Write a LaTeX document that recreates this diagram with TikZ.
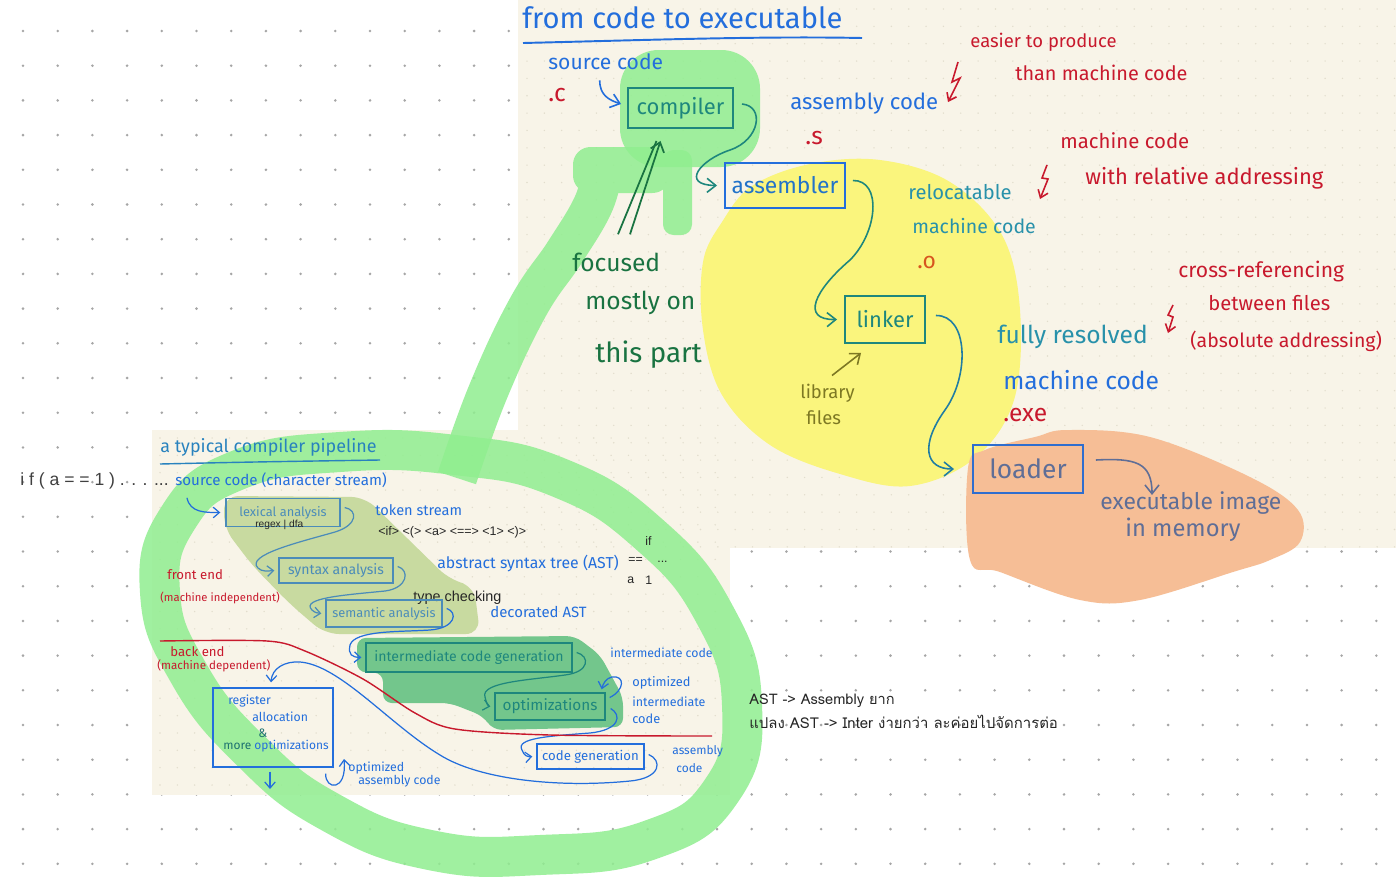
\documentclass[tikz,border=0pt]{standalone}
\usepackage{fontspec}
\setmainfont{Fira Sans}
\newfontfamily\typedfont{Liberation Sans}
\newfontfamily\thaifont[Script=Thai]{Loma}
\usetikzlibrary{arrows.meta}

\definecolor{penblue}{RGB}{35,110,220}
\definecolor{pentitle}{RGB}{40,130,190}
\definecolor{penred}{RGB}{200,25,45}
\definecolor{penteal}{RGB}{30,135,125}
\definecolor{pengreen}{RGB}{25,115,65}
\definecolor{penolive}{RGB}{125,120,35}
\definecolor{penslate}{RGB}{95,110,150}
\definecolor{penorange}{RGB}{215,85,30}
\definecolor{pencyan}{RGB}{40,145,170}
\definecolor{boxgrey}{RGB}{75,140,185}
\definecolor{paper}{RGB}{248,244,232}
\definecolor{paperdot}{RGB}{226,221,205}
\definecolor{hlgreen}{RGB}{144,238,144}
\definecolor{hlyellow}{RGB}{250,245,125}
\definecolor{hlorange}{RGB}{246,190,150}
\definecolor{hlolive}{RGB}{200,218,160}
\definecolor{hldark}{RGB}{115,198,140}

\newcommand\fs[1]{\fontsize{#1}{#1}\selectfont}

\tikzset{
  hand/.style={inner sep=0pt, anchor=west, font=\fs{12}},
  typed/.style={inner sep=0pt, anchor=west, text=black!85, font=\typedfont\fs{6}},
  penbox/.style={draw, line width=1.1pt, inner sep=0pt},
  pipebox/.style={draw, line width=0.8pt, inner sep=0pt},
  flow/.style={line width=0.9pt, -{Straight Barb[length=5pt,width=8pt]}},
  flowp/.style={penblue, line width=0.7pt, -{Straight Barb[length=3.5pt,width=6pt]}},
  zap/.style={penred, line width=0.9pt, -{Straight Barb[length=4pt,width=6pt]}},
  band/.style={draw=hlgreen, line width=0.8cm},
}

\begin{document}
\begin{tikzpicture}[x=0.02cm, y=-0.02cm]
\useasboundingbox (0,0) rectangle (1396,876);
\fill[white] (0,0) rectangle (1396,876);
% canvas dots
\foreach \i in {0,...,39}
  \foreach \j in {0,...,24}
    \fill[black!35] (23+34.7*\i, 31+34.7*\j) circle (0.8pt);

% the two screenshots
\fill[paper] (518,0) rectangle (1396,548);
\fill[paper] (152,430) rectangle (730,795);
\foreach \i in {0,...,50}
  \foreach \j in {0,...,31}
    \fill[paperdot] (527+17.35*\i, 9+17.35*\j) circle (0.45pt);
\foreach \i in {0,...,32}
  \foreach \j in {0,...,20}
    \fill[paperdot] (160+17.35*\i, 438+17.35*\j) circle (0.45pt);

% highlighter marks
\fill[hlyellow] plot[smooth cycle, tension=0.6] coordinates {(703,262) (722,222) (752,186) (810,164) (880,160) (950,182) (1002,235) (1020,310) (1014,400) (975,458) (910,486) (840,474) (770,445) (722,395) (703,330)};
\fill[hlorange] plot[smooth cycle, tension=0.6] coordinates {(968,468) (985,450) (1035,437) (1068,430) (1150,437) (1250,477) (1298,510) (1300,542) (1270,560) (1233,572) (1140,600) (1080,600) (1000,572) (970,560)};
\fill[hlolive, rounded corners=8pt] (224,496) -- (365,497) -- (450,580) -- (474,586) -- (480,634) -- (325,634) -- (290,604) -- (252,565) -- (224,528) -- cycle;
\fill[hldark, rounded corners=5pt] (357,638) -- (575,636) -- (600,655) -- (623,697) -- (623,727) -- (493,730) -- (483,716) -- (450,703) -- (383,703) -- (383,673) -- (357,672) -- cycle;

% big green loop and its arm
\begin{scope}[transparency group, opacity=0.85]
  \draw[band] plot[smooth cycle, tension=0.8] coordinates {(455,455) (560,478) (650,535) (715,615) (742,705) (722,790) (650,840) (540,855) (430,850) (330,812) (250,750) (188,672) (160,592) (178,518) (238,470) (340,452)};
\end{scope}
\begin{scope}[transparency group, opacity=0.85]
  \draw[band, line cap=butt] plot[smooth, tension=0.7] coordinates {(457,478) (488,392) (528,307) (565,252) (593,205) (602,172)};
  \fill[hlgreen, rounded corners=10pt] (573,147) rectangle (670,193);
  \fill[hlgreen, rounded corners=6pt] (663,150) rectangle (692,235);
\end{scope}
\begin{scope}[transparency group, opacity=0.85]
  \fill[hlgreen, rounded corners=22pt] (620,50) rectangle (760,167);
\end{scope}

% ---- from code to executable
\node[hand, text=penblue, font=\fs{16.6}] (title) at (522,18) {from code to executable};
\draw[penblue, line width=1.1pt] (523,43) .. controls (650,40) and (760,36) .. (862,38);
\node[hand, text=penblue] (srccode) at (548,62) {source code};
\node[hand, text=penred, font=\fs{14}] (dotc) at (548,95) {.c};
\node[penbox, draw=penteal, text=penteal, minimum width=2.1cm, minimum height=0.8cm, font=\fs{12.5}] (compiler) at (680.5,108) {compiler};
\node[hand, text=penblue, font=\fs{12.6}] (asmcode) at (790,104) {assembly code};
\node[hand, text=penred, font=\fs{14}] (dots) at (805,138) {.s};
\node[penbox, draw=penblue, text=penblue!80!penteal, minimum width=2.4cm, minimum height=0.9cm, font=\fs{13}] (assembler) at (785,185.5) {assembler};
\node[hand, text=penred, font=\fs{10.5}] (easier) at (970,42) {easier to produce};
\node[hand, text=penred, font=\fs{11.3}] (thanmc) at (1015,73) {than machine code};
\node[hand, text=penred, font=\fs{11.6}] (mcred) at (1060,141) {machine code};
\node[hand, text=penred, font=\fs{12.5}] (withrel) at (1085,178) {with relative addressing};
\node[hand, text=pencyan, font=\fs{11.5}] (reloc) at (908,192) {relocatable};
\node[hand, text=pencyan, font=\fs{11.1}] (relmc) at (912,226) {machine code};
\node[hand, text=penorange, font=\fs{13}] (doto) at (917,262) {.o};
\node[penbox, draw=penteal, text=penteal, minimum width=1.6cm, minimum height=0.94cm, font=\fs{12.5}] (linker) at (885,319.5) {linker};
\node[hand, text=penolive, font=\fs{10.5}] (library) at (800,393) {library};
\node[hand, text=penolive, font=\fs{10.5}] (files) at (806,418) {files};
\node[hand, text=pencyan, font=\fs{14}] (fully) at (997,337) {fully resolved};
\node[hand, text=penblue, font=\fs{14}] (exemc) at (1003,380) {machine code};
\node[hand, text=penred, font=\fs{14}] (exe) at (1003,415) {.exe};
\node[hand, text=penred, font=\fs{12}] (crossref) at (1178,272) {cross-referencing};
\node[hand, text=penred, font=\fs{11.5}] (between) at (1208,303) {between files};
\node[hand, text=penred, font=\fs{11.1}] (absaddr) at (1190,341) {(absolute addressing)};
\node[penbox, draw=penblue!80!penslate, text=penslate, minimum width=2.2cm, minimum height=0.96cm, font=\fs{15}] (loader) at (1028,469) {loader};
\node[hand, text=penslate, font=\fs{13}] (execimg) at (1100,503) {executable image};
\node[hand, text=penslate, font=\fs{13.5}] (inmem) at (1125,530) {in memory};
\node[hand, text=pengreen, font=\fs{14}] (focused) at (572,262) {focused};
\node[hand, text=pengreen, font=\fs{14}] (mostly) at (585,303) {mostly on};
\node[hand, text=pengreen, font=\fs{15.8}] (thispart) at (595,355) {this part};
\coordinate (imgtop) at (1152,495);

\draw[flow, penblue] ([shift={(-6,10)}]srccode.south) .. controls +(0,15) and +(-12,-4) .. ([shift={(-6,-4)}]compiler.west);
\draw[flow, penteal] ([shift={(8,-4)}]compiler.east) .. controls (765,106) and (760,140) .. (730,150) .. controls (700,160) and (680,185) .. ([shift={(-7,0)}]assembler.west);
\draw[flow, penteal] ([shift={(7,-5)}]assembler.east) .. controls (882,180) and (878,232) .. (850,260) .. controls (815,290) and (800,320) .. ([shift={(-7,0)}]linker.west);
\draw[flow, penteal!60!penblue] ([shift={(10,-4)}]linker.east) .. controls (968,315) and (970,375) .. (945,410) .. controls (920,445) and (925,469) .. ([shift={(-18,0)}]loader.west);
\draw[flow, penslate] ([shift={(12,-9)}]loader.east) .. controls (1135,458) and (1152,462) .. (imgtop);
\draw[flow, penolive] ([shift={(32,-8)}]library.north west) -- ([shift={(17,9)}]linker.south west);
\draw[pengreen, line width=1pt] ([shift={(46,-18)}]focused.north west) -- ([shift={(-24,12)}]compiler.south);
\draw[flow, pengreen, line width=1pt] ([shift={(58,-18)}]focused.north west) -- ([shift={(-20,12)}]compiler.south);

\coordinate (zap1) at (958,62);
\coordinate (zap2) at (1047,165);
\coordinate (zap3) at (1173,305);
\draw[zap] (zap1) -- ++(-6,20) -- ++(8,-4) -- ++(-12,24);
\draw[zap] (zap2) -- ++(-5,13) -- ++(6,1) -- ++(-8,20);
\draw[zap] (zap3) -- ++(-5,10) -- ++(5,2) -- ++(-5,16);

% ---- a typical compiler pipeline
\node[hand, text=pentitle, font=\fs{10.2}] (pipetitle) at (160,447) {a typical compiler pipeline};
\draw[pentitle, line width=0.8pt] (160,464) .. controls (250,462) .. (380,460);
\node[hand, text=penblue, font=\fs{8.6}] (srcstream) at (175,480) {source code (character stream)};
\node[pipebox, draw=boxgrey, text=boxgrey, minimum width=2.28cm, minimum height=0.56cm, font=\fs{7.3}] (lexical) at (283,512.5) {lexical analysis};
\node[typed, font=\typedfont\fs{5.8}] (regex) at (255,525) {regex | dfa};
\node[hand, text=penblue, font=\fs{8.3}] (tokstream) at (375,510) {token stream};
\node[typed, font=\typedfont\fs{7.1}] (tokens) at (378,532) {<if> <(> <a> <==> <1> <)>};
\node[pipebox, draw=boxgrey, text=boxgrey, minimum width=2.28cm, minimum height=0.5cm, font=\fs{8}] (syntax) at (336,570.5) {syntax analysis};
\node[hand, text=penblue, font=\fs{9}] (astlabel) at (437,563) {abstract syntax tree (AST)};
\node[typed, font=\typedfont\fs{7}] (astif) at (645,541) {if};
\node[typed, font=\typedfont\fs{7}] (asteq) at (628,560) {==};
\node[typed, font=\typedfont\fs{7}] (astmore) at (657,562) {...};
\node[typed, font=\typedfont\fs{7}] (asta) at (627,580) {a};
\node[typed, font=\typedfont\fs{7}] (astone) at (645,580) {1};
\node[typed, font=\typedfont\fs{8.2}] (typecheck) at (413,598) {type checking};
\node[pipebox, draw=boxgrey, text=boxgrey, minimum width=2.32cm, minimum height=0.54cm, font=\fs{7.3}] (semantic) at (384,613.5) {semantic analysis};
\node[hand, text=penblue, font=\fs{8.5}] (decorated) at (490,612) {decorated AST};
\node[hand, text=penred, font=\fs{7.5}] (frontend) at (167,575) {front end};
\node[hand, text=penred, font=\fs{6.4}] (machindep) at (160,598) {(machine independent)};
\node[hand, text=penred, font=\fs{7.5}] (backend) at (170,652) {back end};
\node[hand, text=penred, font=\fs{6.6}] (machdep) at (157,666) {(machine dependent)};
\node[pipebox, draw=penteal, text=penteal, minimum width=4.12cm, minimum height=0.58cm, font=\fs{8}] (intermediate) at (469,657.5) {intermediate code generation};
\node[hand, text=penblue, font=\fs{7}] (intcode) at (610,653) {intermediate code};
\node[pipebox, draw=penteal, text=penteal, minimum width=2.2cm, minimum height=0.54cm, font=\fs{8.7}] (optim) at (550,706.5) {optimizations};
\node[hand, text=penblue, font=\fs{7.3}] (optimized) at (632,683) {optimized};
\node[hand, text=penblue, font=\fs{7.1}] (intermed) at (632,702) {intermediate};
\node[hand, text=penblue, font=\fs{7.3}] (optcode) at (632,719) {code};
\node[pipebox, draw=penblue, text=penblue, minimum width=2.14cm, minimum height=0.5cm, font=\fs{7.5}] (codegen) at (590.5,756.5) {code generation};
\node[hand, text=penblue, font=\fs{6.8}] (asmb) at (672,751) {assembly};
\node[hand, text=penblue, font=\fs{6.8}] (asmbcode) at (676,768) {code};
\node[pipebox, draw=penblue, minimum width=2.4cm, minimum height=1.58cm] (regalloc) at (273,727.5) {};
\node[hand, text=penblue, font=\fs{7}] (register) at (228,701) {register};
\node[hand, text=penblue, font=\fs{7}] (allocation) at (252,717) {allocation};
\node[hand, text=pengreen!70!penblue, font=\fs{7}] (amp) at (258,733) {\&};
\node[hand, text=penblue, font=\fs{6.8}] (moreopt) at (223,746) {\textcolor{pengreen!70!penblue}{more} optimizations};
\node[hand, text=penblue, font=\fs{7}] (optasm) at (348,768) {optimized};
\node[hand, text=penblue, font=\fs{7}] (optasmcode) at (358,781) {assembly code};
\coordinate (regout) at (270,789);

\draw[flowp] ([shift={(12,10)}]srcstream.south west) .. controls +(3,15) and +(-15,0) .. ([shift={(-5,0)}]lexical.west);
\draw[flowp, boxgrey] ([shift={(4,-5)}]lexical.east) .. controls (358,510) and (358,525) .. (335,532) .. controls (300,542) and (245,555) .. (258,568) .. controls (262,572) and (268,571) .. ([shift={(-4,0)}]syntax.west);
\draw[flowp, boxgrey] ([shift={(4,-4)}]syntax.east) .. controls (410,570) and (408,588) .. (385,591) .. controls (345,595) and (300,598) .. (312,610) .. controls (315,613) and (318,613) .. ([shift={(-4,0)}]semantic.west);
\draw[flowp] ([shift={(4,-5)}]semantic.east) .. controls (458,612) and (456,628) .. (430,630) .. controls (400,632) and (355,630) .. (350,645) .. controls (348,655) and (352,657) .. ([shift={(-4,0)}]intermediate.west);
\draw[flowp, penteal] ([shift={(4,-5)}]intermediate.east) .. controls (590,656) and (590,672) .. (565,675) .. controls (530,680) and (480,682) .. (485,697) .. controls (487,705) and (488,706) .. ([shift={(-4,0)}]optim.west);
\draw[flowp] ([shift={(4,-9)}]optim.east) .. controls (625,690) and (625,675) .. (612,677) .. controls (606,678) and (603,684) .. ([shift={(-4,-3)}]optim.north east);
\draw[flowp] ([shift={(5,2)}]optim.east) .. controls (622,715) and (620,730) .. (590,733) .. controls (550,736) and (515,738) .. (522,750) .. controls (524,756) and (528,757) .. ([shift={(-4,0)}]codegen.west);
\draw[flowp] ([shift={(4,-2)}]codegen.east) .. controls (662,760) and (662,778) .. (630,781) .. controls (560,788) and (480,780) .. (440,755) .. controls (390,725) and (340,665) .. (300,662) .. controls (285,661) and (272,668) .. ([shift={(-2,-5)}]regalloc.north);
\draw[flowp] ([shift={(-3,4)}]regalloc.south) -- (regout);
\draw[flowp] ([shift={(-8,6)}]regalloc.south east) .. controls (325,790) and (347,792) .. ([shift={(-4,-9)}]optasm.west);
\draw[penred, line width=0.8pt] plot[smooth] coordinates {(160,641) (267,641) (305,651) (363,679) (415,713) (455,729) (550,735) (712,736)};

% ---- typed notes on the canvas
\node[typed, text=black!75, font=\typedfont\fs{10}] (ifline) at (20,481) {i f ( a = = 1 ) . . . ...};
\node[typed, text=black!85, font=\thaifont\fs{8.3}] (thaione) at (749,701) {AST -> Assembly ยาก};
\node[typed, text=black!85, font=\thaifont\fs{8.5}] (thaitwo) at (749,722) {แปลง AST -> Inter ง่ายกว่า ละค่อยไปจัดการต่อ};
\end{tikzpicture}
\end{document}
